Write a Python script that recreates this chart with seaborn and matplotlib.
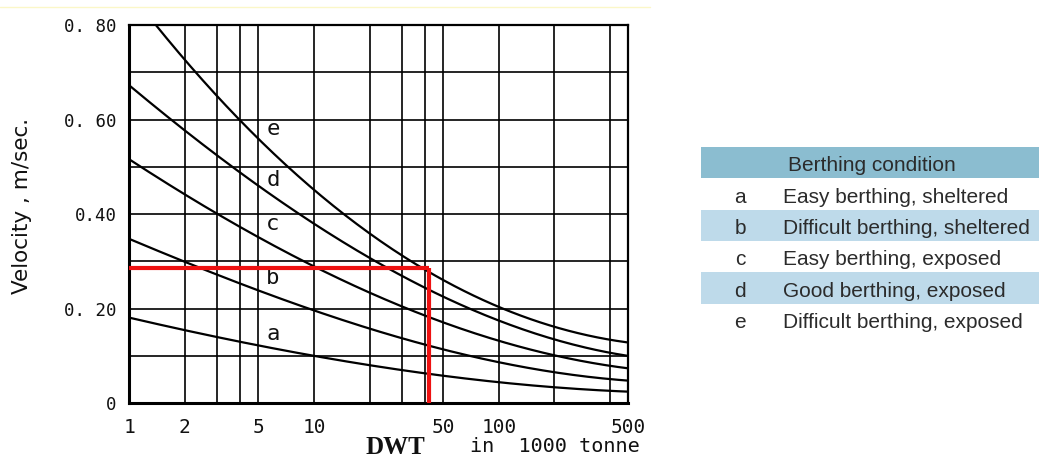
import numpy as np
import pandas as pd
import matplotlib
matplotlib.use("Agg")
import matplotlib.pyplot as plt
import seaborn as sns

# ---- data ----
dwt = [1, 2, 3, 4, 5, 10, 20, 30, 40, 50, 100, 200, 500]
curve_a = [0.180, 0.155, 0.141, 0.129, 0.120, 0.102, 0.081, 0.068, 0.061, 0.056, 0.046, 0.035, 0.023]
curve_b = [0.346, 0.299, 0.275, 0.253, 0.238, 0.196, 0.155, 0.134, 0.124, 0.114, 0.088, 0.067, 0.046]
curve_c = [0.518, 0.441, 0.399, 0.369, 0.348, 0.297, 0.237, 0.203, 0.184, 0.168, 0.131, 0.101, 0.074]
curve_d = [0.674, 0.574, 0.526, 0.487, 0.459, 0.379, 0.309, 0.268, 0.245, 0.226, 0.174, 0.132, 0.101]
dwt_e = [1.38, 2, 3, 4, 5, 10, 20, 30, 40, 50, 100, 200, 500]
curve_e = [0.800, 0.727, 0.653, 0.602, 0.556, 0.447, 0.365, 0.309, 0.279, 0.258, 0.208, 0.162, 0.127]

curve_names = ["a", "b", "c", "d", "e"]
label_y = [0.145, 0.265, 0.378, 0.473, 0.579]
label_x = 6.0

red_dwt = 42
red_vel = 0.285

x_ticks = [1, 2, 5, 10, 50, 100, 500]
x_grid = [1, 2, 3, 4, 5, 10, 20, 30, 40, 50, 100, 200, 400, 500]
y_ticks = [0, 0.20, 0.40, 0.60, 0.80]
y_tick_labels = ["0", "0. 20", "0.40", "0. 60", "0. 80"]
y_grid = [0.1, 0.2, 0.3, 0.4, 0.5, 0.6, 0.7]

table_header = "Berthing condition"
table_keys = ["a", "b", "c", "d", "e"]
table_desc = ["Easy berthing, sheltered", "Difficult berthing, sheltered",
              "Easy berthing, exposed", "Good berthing, exposed",
              "Difficult berthing, exposed"]

# ---- build long data ----
frames = []
for name, xs, ys in [("a", dwt, curve_a), ("b", dwt, curve_b), ("c", dwt, curve_c),
                     ("d", dwt, curve_d), ("e", dwt_e, curve_e)]:
    frames.append(pd.DataFrame({"dwt": xs, "vel": ys, "curve": name}))
df = pd.concat(frames, ignore_index=True)

sns.set_theme(style="white")
plt.rcParams['font.family'] = ['DejaVu Sans']

W, H = 1039, 459
fig = plt.figure(figsize=(W / 100, H / 100), dpi=100)
fig.patch.set_facecolor("white")

ax = fig.add_axes([129 / W, 1 - 403 / H, (628 - 129) / W, (403 - 25) / H])
ax.set_xscale("log")

# grid
for g in x_grid:
    ax.axvline(g, color="black", lw=1.2, zorder=1)
for g in y_grid:
    ax.axhline(g, color="black", lw=1.2, zorder=1)

# smooth curves in log-x
for name in curve_names:
    sub = df[df.curve == name]
    lx = np.log10(sub.dwt.values)
    xs = np.linspace(lx.min(), lx.max(), 200)
    coef = np.polyfit(lx, sub.vel.values, 3)
    ys = np.polyval(coef, xs)
    sm = pd.DataFrame({"dwt": 10 ** xs, "vel": ys})
    sns.lineplot(data=sm, x="dwt", y="vel", ax=ax, color="black", lw=1.6, zorder=3)

for name, ly in zip(curve_names, label_y):
    ax.text(label_x, ly, name, fontsize=16, color="#111111", ha="center", va="center",
            family="DejaVu Sans Mono", zorder=4)

# red lines
ax.plot([1, red_dwt], [red_vel, red_vel], color="#ee1111", lw=3, zorder=5, solid_capstyle="butt")
ax.plot([red_dwt, red_dwt], [0, red_vel], color="#ee1111", lw=3, zorder=5, solid_capstyle="butt")

ax.set_xlim(1, 500)
ax.set_ylim(0, 0.80)
ax.set_xticks(x_ticks)
ax.set_xticklabels([str(t) for t in x_ticks])
ax.xaxis.set_minor_locator(matplotlib.ticker.NullLocator())
ax.set_yticks(y_ticks)
ax.set_yticklabels(y_tick_labels)
ax.tick_params(axis="both", length=0, colors="#111111")
ax.tick_params(axis="x", pad=11, labelsize=14)
ax.tick_params(axis="y", pad=9, labelsize=12.5)
for lab in ax.get_xticklabels() + ax.get_yticklabels():
    lab.set_family("DejaVu Sans Mono")
ax.set_xlabel("")
ax.set_ylabel("")
for s in ax.spines.values():
    s.set_color("black")
    s.set_linewidth(1.6)
    s.set_visible(True)
ax.spines["left"].set_linewidth(2.2)
ax.spines["bottom"].set_linewidth(2.2)

fig.text(22 / W, 1 - 206 / H, "Velocity , m/sec.", rotation=90, ha="center", va="center",
         fontsize=15.5, color="#111111")
fig.text(365 / W, 1 - 447 / H, "DWT", fontsize=18, fontweight="bold",
         family="Liberation Serif", ha="left", va="center", color="#111111")
fig.text(470 / W, 1 - 447 / H, "in  1000 tonne", fontsize=14.5, family="DejaVu Sans Mono",
         ha="left", va="center", color="#111111")

# faint top line
fig.add_artist(plt.Line2D([0, 650 / W], [1 - 7 / H, 1 - 7 / H], color="#fbf7c8", lw=1))

# ---- table ----
tax = fig.add_axes([701 / W, 1 - 335 / H, (W - 701) / W, (335 - 147) / H])
tax.set_xlim(0, 1)
tax.set_ylim(6, 0)
tax.axis("off")
tax.axhspan(0, 1, color="#8bbdd0", lw=0)
tfont = "Liberation Sans"
fs = 15
off = 0.1
for i, (k, d) in enumerate(zip(table_keys, table_desc)):
    if i % 2 == 1:
        tax.axhspan(i + 1, i + 2, color="#bedaea", lw=0)
    tax.text(39 / (W - 701), i + 1.5 + off, k, ha="center", va="center", fontsize=fs, color="#2b2b2b",
             family=tfont)
    tax.text(82 / (W - 701), i + 1.5 + off, d, ha="left", va="center", fontsize=fs, color="#2b2b2b",
             family=tfont)
tax.text(171 / (W - 701), 0.5 + off, table_header, ha="center", va="center", fontsize=fs,
         color="#2b2b2b", family=tfont)

fig.savefig("out.png", dpi=100, facecolor="white")
